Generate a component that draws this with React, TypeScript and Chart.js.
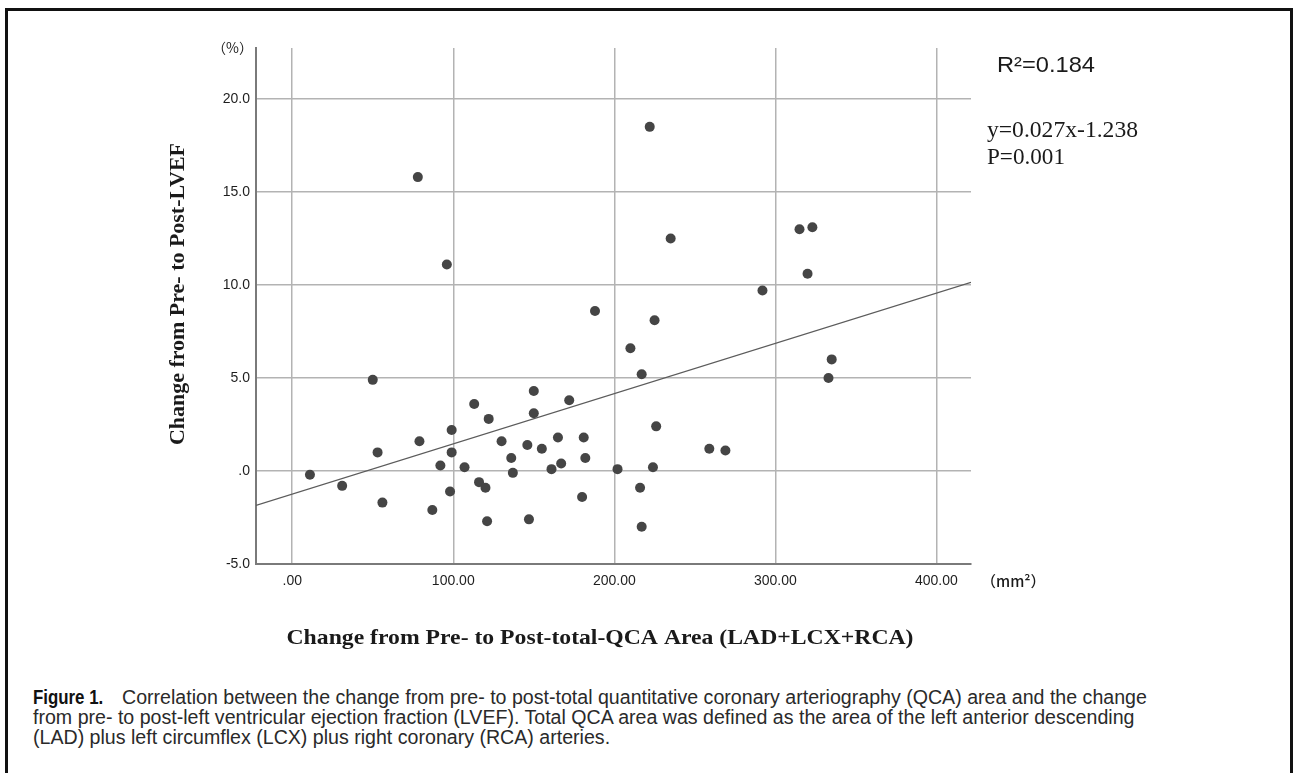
import React, { useEffect, useRef } from "react";
import { Chart, registerables } from "chart.js";

Chart.register(...registerables);

// ---- data ----
const xValues = [
  78, 96, 188, 222, 235, 315, 323, 320, 292, 225, 210, 335, 217, 333, 226, 259, 269, 202, 224, 216, 217,
  11, 31, 50, 53, 56, 79, 87, 92, 99, 99, 98, 107, 113, 116, 120, 122, 121, 130, 136, 137, 146, 147, 150,
  150, 155, 161, 165, 167, 172, 180, 181, 182,
];
const yValues = [
  15.8, 11.1, 8.6, 18.5, 12.5, 13.0, 13.1, 10.6, 9.7, 8.1, 6.6, 6.0, 5.2, 5.0, 2.4, 1.2, 1.1, 0.1, 0.2, -0.9, -3.0,
  -0.2, -0.8, 4.9, 1.0, -1.7, 1.6, -2.1, 0.3, 2.2, 1.0, -1.1, 0.2, 3.6, -0.6, -0.9, 2.8, -2.7, 1.6, 0.7, -0.1, 1.4, -2.6, 4.3,
  3.1, 1.2, 0.1, 1.8, 0.4, 3.8, -1.4, 1.8, 0.7,
];
const xTicks = [0, 100, 200, 300, 400];
const yTicks = [-5, 0, 5, 10, 15, 20];
const xRange = [-22.5, 421.5];
const yRange = [-5, 22.74];
const fitSlope = 0.027;
const fitIntercept = -1.238;

const yTitle = "Change from Pre- to Post-LVEF";
const xTitle = "Change from Pre- to Post-total-QCA Area (LAD+LCX+RCA)";
const yUnit = "（%）";
const xUnit = "（mm²）";
const r2Text = "R²=0.184";
const eqText = "y=0.027x-1.238";
const pText = "P=0.001";

const captionLabel = "Figure 1.";
const captionLines = [
  "Correlation between the change from pre- to post-total quantitative coronary arteriography (QCA) area and the change",
  "from pre- to post-left ventricular ejection fraction (LVEF). Total QCA area was defined as the area of the left anterior descending",
  "(LAD) plus left circumflex (LCX) plus right coronary (RCA) arteries.",
];

const fmtY = (v: number) => (v === 0 ? ".0" : v.toFixed(1));
const fmtX = (v: number) => (v === 0 ? ".00" : v.toFixed(2));

// draw text stretched horizontally so it spans a given width
function fitText(ctx: any, text: string, x: number, y: number, width: number, align: "left" | "center") {
  const w = ctx.measureText(text).width;
  const s = width / w;
  ctx.save();
  ctx.translate(x, y);
  ctx.scale(s, 1);
  ctx.textAlign = align;
  ctx.fillText(text, 0, 0);
  ctx.restore();
}

const textPlugin = {
  id: "figureTexts",
  afterDraw(chart: any) {
    const { ctx } = chart;
    ctx.save();
    ctx.fillStyle = "#1a1a1a";
    ctx.textBaseline = "middle";
    // unit labels
    ctx.font = "14px 'Noto Sans CJK JP', 'Liberation Sans', sans-serif";
    ctx.textAlign = "right";
    ctx.fillText(yUnit, 253, 48);
    ctx.textAlign = "left";
    ctx.font = "500 15px 'Noto Sans CJK JP', 'Liberation Sans', sans-serif";
    ctx.fillText(xUnit, 981, 581);
    // statistics
    ctx.font = "22px 'Liberation Sans', Arial, sans-serif";
    fitText(ctx, r2Text, 997, 66, 98, "left");
    ctx.font = "23px 'Liberation Serif', 'Times New Roman', serif";
    fitText(ctx, eqText, 987, 131, 151, "left");
    fitText(ctx, pText, 987, 158, 78, "left");
    // axis titles
    ctx.font = "bold 22px 'Liberation Serif', 'Times New Roman', serif";
    fitText(ctx, xTitle, 600, 638, 627, "center");
    ctx.translate(178, 294);
    ctx.rotate(-Math.PI / 2);
    fitText(ctx, yTitle, 0, 0, 302, "center");
    ctx.restore();
  },
};

export default function App() {
  const canvasRef = useRef<HTMLCanvasElement | null>(null);

  useEffect(() => {
    document.body.style.margin = "0";
    const canvas = canvasRef.current;
    if (!canvas) return;
    const points = xValues.map((x, i) => ({ x, y: yValues[i] }));
    const fitLine = xRange.map((x) => ({ x, y: fitSlope * x + fitIntercept }));
    const tickFont = { family: "'Liberation Sans', Arial, sans-serif", size: 14 };
    const chart = new Chart(canvas, {
      type: "scatter",
      data: {
        datasets: [
          {
            type: "scatter",
            data: points,
            pointRadius: 5,
            pointBackgroundColor: "#454545",
            pointBorderWidth: 0,
            order: 1,
          } as any,
          {
            type: "line",
            data: fitLine,
            borderColor: "#5c5c5c",
            borderWidth: 1.3,
            pointRadius: 0,
            fill: false,
            order: 2,
          } as any,
        ],
      },
      options: {
        responsive: false,
        animation: false,
        layout: { padding: { left: 156, right: 326, top: 48, bottom: 0 } },
        plugins: { legend: { display: false }, tooltip: { enabled: false } },
        scales: {
          x: {
            type: "linear",
            min: xRange[0],
            max: xRange[1],
            afterBuildTicks: (scale: any) => {
              scale.ticks = xTicks.map((v) => ({ value: v }));
            },
            afterFit: (scale: any) => {
              scale.height = 96;
            },
            grid: { color: "#b3b3b3", lineWidth: 1.5, drawTicks: false },
            border: { display: true, color: "#7a7a7a", width: 2 },
            ticks: {
              font: tickFont,
              color: "#1e1e1e",
              padding: 9,
              maxRotation: 0,
              autoSkip: false,
              callback: (v: any) => fmtX(Number(v)),
            },
          },
          y: {
            type: "linear",
            min: yRange[0],
            max: yRange[1],
            afterBuildTicks: (scale: any) => {
              scale.ticks = yTicks.map((v) => ({ value: v }));
            },
            afterFit: (scale: any) => {
              scale.width = 100;
            },
            grid: { color: "#b3b3b3", lineWidth: 1.5, drawTicks: false },
            border: { display: true, color: "#7a7a7a", width: 2 },
            ticks: {
              font: tickFont,
              color: "#1e1e1e",
              padding: 6,
              autoSkip: false,
              callback: (v: any) => fmtY(Number(v)),
            },
          },
        },
      },
      plugins: [textPlugin],
    });
    return () => chart.destroy();
  }, []);

  return (
    <div style={{ position: "relative", width: 1297, height: 773, overflow: "hidden", background: "#fff" }}>
      <div
        style={{
          position: "absolute",
          left: 5,
          top: 8,
          width: 1288,
          height: 820,
          border: "3px solid #111",
          boxSizing: "border-box",
        }}
      />
      <canvas
        ref={canvasRef}
        width={1297}
        height={660}
        style={{ position: "absolute", left: 0, top: 0, width: 1297, height: 660 }}
      />
      <div
        style={{
          position: "absolute",
          left: 33,
          top: 687,
          fontFamily: "'Liberation Sans', Arial, sans-serif",
          fontSize: 19.6,
          lineHeight: "20px",
          color: "#2a2a2a",
          whiteSpace: "nowrap",
        }}
      >
        {captionLines.map((line, i) => (
          <div key={i}>
            {i === 0 && (
              <span style={{ display: "inline-block", width: 89, verticalAlign: "top" }}>
                <span
                  style={{
                    fontWeight: "bold",
                    display: "inline-block",
                    transform: "scaleX(0.86)",
                    transformOrigin: "left center",
                    color: "#111",
                  }}
                >
                  {captionLabel}
                </span>
              </span>
            )}
            {line}
          </div>
        ))}
      </div>
    </div>
  );
}
